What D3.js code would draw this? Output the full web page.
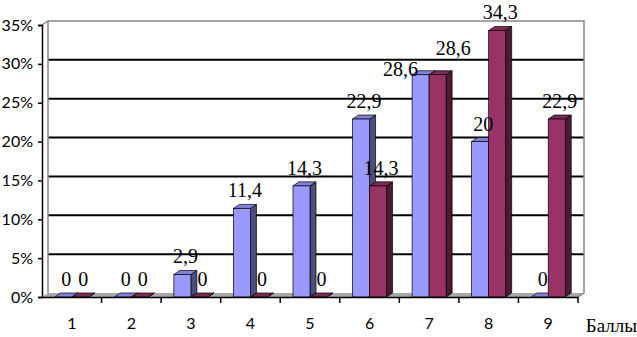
<!DOCTYPE html>
<html>
<head>
<meta charset="utf-8">
<script src="https://cdn.jsdelivr.net/npm/d3@7"></script>
<style>
  body { margin: 0; background: #fff; }
  svg { display: block; }
  .serif { font-family: 'Liberation Serif', 'Times New Roman', 'DejaVu Serif', serif; }
  .sans { font-family: Lato, 'Liberation Sans', sans-serif; }
</style>
</head>
<body>
<div class="canvas"></div>
<script>
const categories = ['1', '2', '3', '4', '5', '6', '7', '8', '9'];
const seriesA = [0, 0, 2.9, 11.4, 14.3, 22.9, 28.6, 20, 0];
const seriesB = [0, 0, 0, 0, 0, 14.3, 28.6, 34.3, 22.9];
const yTicks = [0, 5, 10, 15, 20, 25, 30, 35];
const axisTitle = 'Баллы';

const dims = { width: 637, height: 337 };
const plot = { left: 42, right: 578, top: 25, bottom: 297 };
const depth = { x: 6, y: -4 };

const series = [
  { values: seriesA, front: '#9999ff', top: '#8282dc', side: '#4d4d80' },
  { values: seriesB, front: '#993366', top: '#7d2a54', side: '#4d1a33' }
];

const svg = d3
  .select('.canvas')
  .append('svg')
  .attr('width', dims.width)
  .attr('height', dims.height);

const x = d3
  .scaleBand()
  .domain(categories)
  .range([plot.left, plot.right])
  .paddingInner(0)
  .paddingOuter(0);

const xInner = d3
  .scaleBand()
  .domain([0, 1])
  .range([0, x.bandwidth()])
  .paddingOuter(0.75)
  .paddingInner(0);

const y = d3.scaleLinear().domain([0, 35]).range([plot.bottom, plot.top]);

// back wall + floor
const wall = svg.append('g');

wall
  .append('polygon')
  .attr('points', [
    [plot.left, plot.bottom],
    [plot.right, plot.bottom],
    [plot.right + depth.x, plot.bottom + depth.y],
    [plot.left + depth.x, plot.bottom + depth.y]
  ].join(' '))
  .attr('fill', '#a8a8a8');

wall
  .selectAll('line.grid')
  .data(yTicks.filter(d => d > 0 && d < 35))
  .enter()
  .append('line')
  .attr('class', 'grid')
  .attr('x1', plot.left + depth.x)
  .attr('x2', plot.right + depth.x)
  .attr('y1', d => y(d) + depth.y)
  .attr('y2', d => y(d) + depth.y)
  .attr('stroke', '#000')
  .attr('stroke-width', 2);

wall
  .append('path')
  .attr('d', `M${plot.left},${y(35)} L${plot.left + depth.x},${y(35) + depth.y}
    L${plot.right + depth.x},${y(35) + depth.y} L${plot.right + depth.x},${plot.bottom + depth.y}
    L${plot.right},${plot.bottom}
    M${plot.left + depth.x},${y(35) + depth.y} L${plot.left + depth.x},${plot.bottom + depth.y}`)
  .attr('fill', 'none')
  .attr('stroke', '#888')
  .attr('stroke-width', 1.5);

// bars
const bars = svg.append('g');
const w = xInner.bandwidth();
const barX = (cat, si) => x(cat) + xInner(si);

series.forEach((s, si) => {
  const g = bars.append('g');
  const data = s.values.map((v, i) => ({ cat: categories[i], v }));

  g.selectAll('path.side')
    .data(data)
    .enter()
    .append('path')
    .attr('d', d => {
      const l = barX(d.cat, si) + w, t = y(d.v), b = plot.bottom;
      return `M${l},${b} L${l},${t} L${l + depth.x},${t + depth.y} L${l + depth.x},${b + depth.y}Z`;
    })
    .attr('fill', s.side)
    .attr('stroke', '#000')
    .attr('stroke-width', 0.7);

  g.selectAll('path.top')
    .data(data)
    .enter()
    .append('path')
    .attr('d', d => {
      const l = barX(d.cat, si), t = y(d.v);
      return `M${l},${t} L${l + w},${t} L${l + w + depth.x},${t + depth.y} L${l + depth.x},${t + depth.y}Z`;
    })
    .attr('fill', s.top)
    .attr('stroke', '#000')
    .attr('stroke-width', 0.7);

  g.selectAll('rect')
    .data(data)
    .enter()
    .append('rect')
    .attr('x', d => barX(d.cat, si))
    .attr('y', d => y(d.v))
    .attr('width', w)
    .attr('height', d => plot.bottom - y(d.v))
    .attr('fill', s.front)
    .attr('stroke', '#000')
    .attr('stroke-width', 0.7);
});

// data labels; when both labels of a category sit at the same height,
// push the first one left/down and the second one up/right so they don't collide
const labels = [];
categories.forEach((cat, i) => {
  const a = { si: 0, cat, v: seriesA[i] };
  const b = { si: 1, cat, v: seriesB[i] };
  [a, b].forEach(d => {
    d.x = barX(cat, d.si) + w / 2 + depth.x / 2;
    d.y = y(d.v) + depth.y - 7;
  });
  if (a.v > 0 && Math.abs(a.y - b.y) < 14) {
    a.x -= w + 6;
    a.y += 12;
    b.x += w / 2 + 4;
    b.y -= 9;
  }
  labels.push(a, b);
});

svg
  .append('g')
  .selectAll('text')
  .data(labels)
  .enter()
  .append('text')
  .attr('class', 'serif')
  .attr('x', d => d.x)
  .attr('y', d => d.y)
  .attr('text-anchor', 'middle')
  .attr('font-size', 20)
  .attr('fill', '#000')
  .text(d => String(d.v).replace('.', ','));

// axes
const yAxis = d3
  .axisLeft(y)
  .tickValues(yTicks)
  .tickSize(4)
  .tickFormat(d => `${d}%`);

svg
  .append('g')
  .attr('transform', `translate(${plot.left},0)`)
  .call(yAxis)
  .call(g => g.attr('font-family', null))
  .call(g => g.selectAll('path, line').attr('stroke', '#000').attr('stroke-width', 1.5))
  .call(g => g.selectAll('text')
    .attr('class', 'sans')
    .attr('font-size', 16)
    .attr('fill', '#000')
    .attr('x', -9));

const xAxis = d3
  .axisBottom(x)
  .tickSize(0)
  .tickPadding(21);

svg
  .append('g')
  .attr('transform', `translate(0,${plot.bottom})`)
  .call(xAxis)
  .call(g => g.attr('font-family', null))
  .call(g => g.select('.domain').attr('stroke', '#000').attr('stroke-width', 1.5))
  .call(g => g.selectAll('text')
    .attr('class', 'sans')
    .attr('font-size', 16)
    .attr('fill', '#000'));

// category separators
svg
  .append('g')
  .selectAll('line')
  .data(categories.slice(1).concat(['end']))
  .enter()
  .append('line')
  .attr('x1', d => (d === 'end' ? plot.right : x(d)))
  .attr('x2', d => (d === 'end' ? plot.right : x(d)))
  .attr('y1', plot.bottom)
  .attr('y2', plot.bottom + 6)
  .attr('stroke', '#000')
  .attr('stroke-width', 1.5);

svg
  .append('text')
  .attr('class', 'serif')
  .attr('x', dims.width)
  .attr('y', 332)
  .attr('text-anchor', 'end')
  .attr('font-size', 19)
  .attr('fill', '#000')
  .text(axisTitle);
</script>
</body>
</html>
